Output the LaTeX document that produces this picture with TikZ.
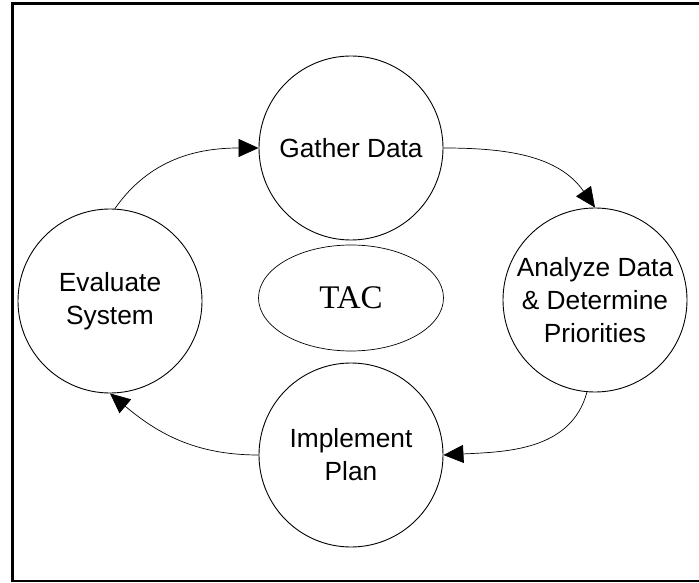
\documentclass[tikz,border=0pt]{standalone}
\usepackage{fontspec}
\setmainfont{Liberation Sans}
\newfontfamily\serifTAC{Liberation Serif}
\usetikzlibrary{arrows.meta,shapes.geometric}
\begin{document}
\begin{tikzpicture}[x=1pt,y=1pt,
  stage/.style={circle,draw,line width=0.9pt,minimum size=184pt,inner sep=0pt,
    align=center,font=\fontsize{26.3}{33}\selectfont},
  flow/.style={line width=0.7pt,-{Triangle[length=20pt,width=18pt]}}]
\useasboundingbox (0,0) rectangle (699,582);
\clip (0,0) rectangle (699,582);
\fill[white] (0,0) rectangle (699,582);
\draw[line width=2.5pt] (720,578.5) -- (12.5,578.5) -- (12.5,1) -- (720,1);
\node[stage] (gd) at (351,434) {Gather Data};
\node[stage] (ev) at (110,281) {Evaluate\\System};
\node[stage] (an) at (595,282) {Analyze Data\\\& Determine\\Priorities};
\node[stage] (im) at (351,127) {Implement\\Plan};
\node[ellipse,draw,line width=0.7pt,minimum width=185pt,minimum height=106pt,inner sep=0pt,
  font=\serifTAC\fontsize{33}{36}\selectfont] (tac) at (351,284) {TAC};
\draw[flow] (ev.87) to[out=55,in=180] (gd.west);
\draw[flow] (gd.east) to[out=0,in=125] (an.north);
\draw[flow] (an.-95) to[out=-105,in=3] (im.east);
\draw[flow] (im.west) to[out=180,in=-40] (ev.-90);
\end{tikzpicture}
\end{document}
